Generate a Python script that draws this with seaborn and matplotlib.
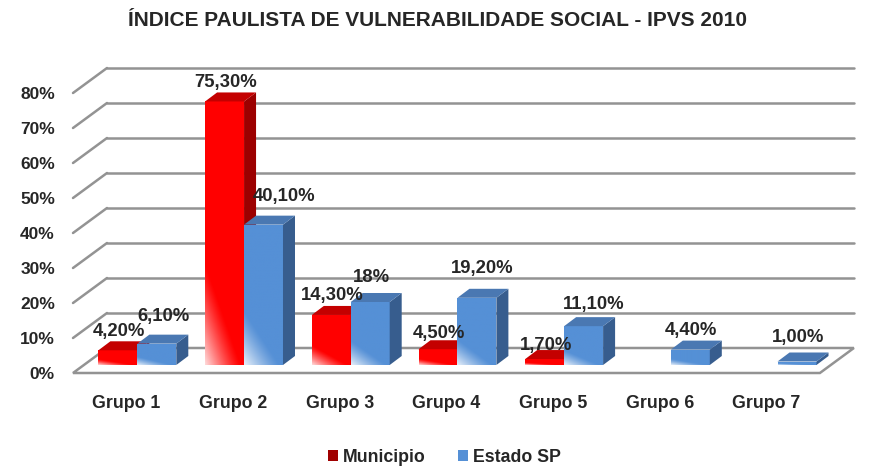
import matplotlib
matplotlib.use("Agg")
import matplotlib.pyplot as plt
from matplotlib.patches import Polygon, Patch
import numpy as np
import pandas as pd
import seaborn as sns

# data
grupos = ["Grupo 1", "Grupo 2", "Grupo 3", "Grupo 4", "Grupo 5", "Grupo 6", "Grupo 7"]
municipio = [4.2, 75.3, 14.3, 4.5, 1.7, 0.0, 0.0]
estado_sp = [6.1, 40.1, 18.0, 19.2, 11.1, 4.4, 1.0]
series = ["Municipio", "Estado SP"]
labels_municipio = ["4,20%", "75,30%", "14,30%", "4,50%", "1,70%", "", ""]
labels_estado = ["6,10%", "40,10%", "18%", "19,20%", "11,10%", "4,40%", "1,00%"]
y_ticks = [0, 10, 20, 30, 40, 50, 60, 70, 80]

df = pd.DataFrame({
    "grupo": grupos * 2,
    "serie": [series[0]] * len(grupos) + [series[1]] * len(grupos),
    "valor": municipio + estado_sp,
    "rotulo": labels_municipio + labels_estado,
})

# colours of the faces: front, side, top
faces = {
    "Municipio": ("#ff0000", "#9c0000", "#c40000"),
    "Estado SP": ("#5590d6", "#375d8e", "#4a78b2"),
}
legend_colors = {"Municipio": "#a00000", "Estado SP": "#5590d6"}

# label nudges (pixels) where excel pushed labels apart
label_offset = {"Municipio": 19, "Estado SP": 24}
label_nudge = {"6,10%": (6, 3), "40,10%": (20, 4), "11,10%": (9, -2), "19,20%": (4, 5),
               "4,50%": (0, -3), "1,70%": (0, -5), "4,40%": (0, -5)}

sns.set_style("white")
plt.rcParams["font.family"] = ["Liberation Sans", "DejaVu Sans"]

fig = plt.figure(figsize=(8.75, 4.75), dpi=100)
ax = fig.add_axes([73 / 875, 1 - 373 / 475, (860 - 73) / 875, (373 - 55) / 475])

sns.barplot(data=df, x="grupo", y="valor", hue="serie", hue_order=series,
            palette=[faces[s][0] for s in series], width=0.73, dodge=True,
            legend=False, ax=ax, saturation=1, linewidth=0)

x_max = -0.5 + (860 - 73) / 106.7
y_max = (373 - 55) / 3.5
DX, DY = 34 / 106.7, 25 / 3.5          # full depth of the floor
BX, BY = 11 / 106.7, 8 / 3.5           # where the bar front sits
DDX, DDY = 12 / 106.7, 9 / 3.5         # depth of a bar

# back wall, left wall lines and floor
grid_c = "#939393"
for v in y_ticks[1:]:
    ax.plot([-0.5 + DX, 6.5 + DX], [v + DY, v + DY], color=grid_c, lw=1.8, zorder=1, clip_on=False)
    ax.plot([-0.5, -0.5 + DX], [v, v + DY], color=grid_c, lw=1.8, zorder=1, clip_on=False)
floor = Polygon([(-0.5, 0), (6.5, 0), (6.5 + DX, DY), (-0.5 + DX, DY)], closed=True,
                facecolor="white", edgecolor=grid_c, lw=1.8, zorder=1.5, clip_on=False)
ax.add_patch(floor)


def front_gradient(patch, base, z):
    n = 80
    yy, xx = np.mgrid[0:1:n * 1j, 0:1:n * 1j]
    lift = np.clip(1 - (yy * 2.6 + xx * 1.1), 0, 1) ** 1.2 * 0.85
    base = np.array(matplotlib.colors.to_rgb(base))
    img = base[None, None, :] * (1 - lift[..., None]) + lift[..., None]
    x0, y0 = patch.get_x(), patch.get_y()
    im = ax.imshow(img, extent=(x0, x0 + patch.get_width(), y0, y0 + patch.get_height()),
                   origin="lower", aspect="auto", zorder=z, interpolation="bilinear")
    im.set_clip_path(patch)


bars = list(ax.patches[:2 * len(grupos)])
serie_of = {}
for i, p in enumerate(bars):
    serie_of[id(p)] = (series[i // len(grupos)], i % len(grupos))
bars.sort(key=lambda p: p.get_x())

for k, p in enumerate(bars):
    serie, gi = serie_of[id(p)]
    h = p.get_height()
    if h <= 0:
        p.set_visible(False)
        continue
    front, side, top = faces[serie]
    z = 3 + k * 0.1
    x0 = p.get_x() + BX
    w = p.get_width()
    x1 = x0 + w
    p.set_x(x0)
    p.set_y(BY)
    p.set_zorder(z)
    front_gradient(p, front, z + 0.01)
    ax.add_patch(Polygon([(x1, BY), (x1 + DDX, BY + DDY), (x1 + DDX, BY + h + DDY), (x1, BY + h)],
                         closed=True, facecolor=side, edgecolor="none", zorder=z + 0.02))
    ax.add_patch(Polygon([(x0, BY + h), (x0 + DDX, BY + h + DDY), (x1 + DDX, BY + h + DDY), (x1, BY + h)],
                         closed=True, facecolor=top, edgecolor="none", zorder=z + 0.03))
    txt = df.loc[(df["serie"] == serie) & (df["grupo"] == grupos[gi]), "rotulo"].iloc[0]
    nx, ny = label_nudge.get(txt, (0, 0))
    off_px = (1 + nx, label_offset[serie] + ny)
    ax.annotate(txt, (x0 + w / 2, BY + h), xytext=(off_px[0] * 0.72, off_px[1] * 0.72),
                textcoords="offset points", ha="center", va="center",
                fontsize=13.3, fontweight="bold", zorder=20)

ax.set_xlim(-0.5, x_max)
ax.set_ylim(0, y_max)
ax.set_yticks(y_ticks)
ax.set_yticklabels([f"{v}%" for v in y_ticks], fontsize=12.5, fontweight="bold")
ax.set_xticks(range(len(grupos)))
ax.set_xticklabels(grupos, fontsize=12.8, fontweight="bold")
ax.tick_params(axis="y", length=0, pad=13)
ax.tick_params(axis="x", length=0, pad=16)
ax.set_xlabel("")
ax.set_ylabel("")
sns.despine(ax=ax, left=True, bottom=True)

fig.text(0.5, 1 - 21 / 475, "ÍNDICE PAULISTA DE VULNERABILIDADE SOCIAL - IPVS 2010",
         ha="center", va="center", fontsize=15, fontweight="bold")

handles = [Patch(facecolor=legend_colors[s], edgecolor="none", label=s) for s in series]
fig.legend(handles=handles, loc="center", bbox_to_anchor=(0.508, 1 - 457 / 475), ncol=2,
           frameon=False, handlelength=0.55, handleheight=0.55, handletextpad=0.3,
           columnspacing=1.8, prop={"size": 12.8, "weight": "bold"})

fig.savefig("out.png", dpi=100, facecolor="white")
